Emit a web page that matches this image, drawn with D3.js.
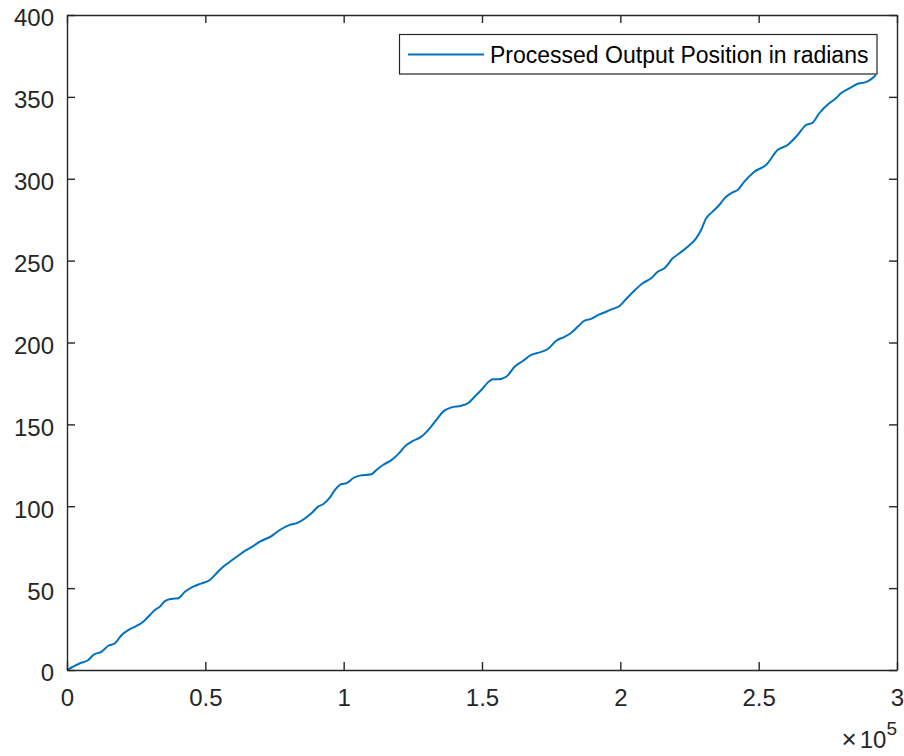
<!DOCTYPE html>
<html>
<head>
<meta charset="utf-8">
<script src="https://cdn.jsdelivr.net/npm/d3@7"></script>
<style>
html, body { margin: 0; padding: 0; background: #fff; }
svg { display: block; font-family: "Liberation Sans", Arial, Helvetica, sans-serif; }
</style>
</head>
<body>
<svg id="chart" width="904" height="756"></svg>
<script>
// ---- data ----
const sampleIndex = [0, 4694, 7692, 9497, 12530, 14913, 17333, 19752, 22135, 24555, 27552, 29971, 31777, 33582, 35388, 37807, 40191, 42610, 45607, 48640, 51637, 54056, 56440, 58859, 61856, 64276, 67273, 69692, 73917, 76914, 80525, 83522, 86555, 88938, 90744, 92549, 94969, 96774, 99193, 100999, 103382, 105801, 110026, 111831, 114215, 117248, 119631, 122664, 125048, 128081, 131078, 133497, 135880, 138913, 142524, 144907, 147327, 149746, 152743, 153935, 155740, 158773, 161770, 164767, 167800, 170800, 173797, 176830, 179827, 182246, 184630, 187049, 189468, 192465, 194884, 197268, 199687, 202106, 204489, 208100, 211134, 213517, 215936, 218933, 221353, 224350, 227383, 229188, 230994, 233377, 235183, 238216, 240599, 242405, 244824, 248435, 252660, 256848, 260459, 264070, 267103, 269487, 271906, 275517, 277936, 279742, 282739, 286350, 288155, 290575, 292380];
const positionRad = [0, 4.1, 6.1, 9.2, 11.2, 14.8, 16.3, 21.4, 24.4, 26.4, 29.5, 33.6, 36.6, 38.7, 42.1, 43.4, 43.8, 47.8, 50.9, 52.9, 55.0, 59.1, 63.1, 66.1, 69.8, 72.7, 75.7, 78.4, 81.8, 85.5, 88.6, 90.0, 93.3, 96.7, 99.8, 101.2, 105.2, 109.8, 113.6, 114.0, 117.1, 118.7, 119.5, 122.1, 125.2, 128.2, 131.7, 137.4, 139.9, 142.5, 147.6, 152.7, 157.7, 160.4, 161.4, 162.9, 166.9, 171.0, 176.5, 177.5, 177.5, 179.1, 185.2, 188.7, 192.4, 194.0, 196.0, 201.1, 203.5, 206.0, 209.7, 213.3, 214.4, 217.2, 218.8, 220.5, 222.3, 226.6, 230.7, 236.2, 239.2, 243.2, 245.3, 251.4, 254.5, 258.5, 263.6, 268.7, 275.8, 279.9, 282.9, 289.0, 291.7, 293.1, 298.2, 304.3, 308.4, 317.5, 320.6, 326.7, 332.8, 334.2, 340.0, 346.1, 349.1, 352.2, 355.2, 358.3, 358.7, 360.7, 363.4];
const xTicks = [0, 50000, 100000, 150000, 200000, 250000, 300000];
const xTickLabels = ["0", "0.5", "1", "1.5", "2", "2.5", "3"];
const yTicks = [0, 50, 100, 150, 200, 250, 300, 350, 400];
const seriesName = "Processed Output Position in radians";
const xExponent = "5";

// ---- layout ----
const plotLeft = 67, plotRight = 897, plotTop = 15, plotBottom = 670;
const axisColor = "#262626";
const lineColor = "#0072BD";
const tickLen = 8;

const svg = d3.select("#chart");
const x = d3.scaleLinear().domain([0, 300000]).range([plotLeft, plotRight]);
const y = d3.scaleLinear().domain([0, 400]).range([plotBottom, plotTop]);

const data = sampleIndex.map((s, i) => ({ x: s, y: positionRad[i] }));

// line
const line = d3.line().x(d => x(d.x)).y(d => y(d.y)).curve(d3.curveMonotoneX);
svg.append("path")
  .datum(data)
  .attr("fill", "none")
  .attr("stroke", lineColor)
  .attr("stroke-width", 2)
  .attr("stroke-linejoin", "round")
  .attr("d", line);

// axes (MATLAB style: ticks inward, box on)
const fmtX = (d, i) => xTickLabels[i];
const gBottom = svg.append("g").attr("transform", `translate(0,${plotBottom})`)
  .call(d3.axisBottom(x).tickValues(xTicks).tickFormat(fmtX).tickSizeInner(-tickLen).tickSizeOuter(0).tickPadding(19));
const gTop = svg.append("g").attr("transform", `translate(0,${plotTop})`)
  .call(d3.axisTop(x).tickValues(xTicks).tickFormat("").tickSizeInner(-tickLen).tickSizeOuter(0));
const gLeft = svg.append("g").attr("transform", `translate(${plotLeft},0)`)
  .call(d3.axisLeft(y).tickValues(yTicks).tickFormat(d3.format("d")).tickSizeInner(-tickLen).tickSizeOuter(0).tickPadding(13));
const gRight = svg.append("g").attr("transform", `translate(${plotRight},0)`)
  .call(d3.axisRight(y).tickValues(yTicks).tickFormat("").tickSizeInner(-tickLen).tickSizeOuter(0));

[gBottom, gTop, gLeft, gRight].forEach(g => {
  g.selectAll(".domain").attr("stroke", axisColor).attr("stroke-width", 1.4);
  g.selectAll(".tick line").attr("stroke", axisColor).attr("stroke-width", 1.4);
  g.selectAll("text").attr("fill", axisColor).attr("font-size", 24)
    .attr("font-family", "'Liberation Sans', Arial, sans-serif");
});
gLeft.selectAll("text").attr("dy", "0.35em").attr("y", 2.5);
gBottom.selectAll("text").attr("dy", "0.71em");

// exponent label
const expText = svg.append("text")
  .attr("x", plotRight).attr("y", 748)
  .attr("text-anchor", "end")
  .attr("fill", axisColor)
  .attr("font-size", 24);
expText.append("tspan").attr("font-size", 26).text("\u00D7");
expText.append("tspan").attr("dx", 3).text("10");
expText.append("tspan").attr("font-size", 19).attr("dy", -13).text(xExponent);

// legend
const lg = svg.append("g");
lg.append("rect")
  .attr("x", 399.5).attr("y", 34.5).attr("width", 477.5).attr("height", 39.5)
  .attr("fill", "#fff").attr("stroke", axisColor).attr("stroke-width", 1.2);
lg.append("line")
  .attr("x1", 408).attr("x2", 484).attr("y1", 54.5).attr("y2", 54.5)
  .attr("stroke", lineColor).attr("stroke-width", 2);
lg.append("text")
  .attr("x", 490).attr("y", 63)
  .attr("fill", "#000").attr("font-size", 23)
  .text(seriesName);
</script>
</body>
</html>
